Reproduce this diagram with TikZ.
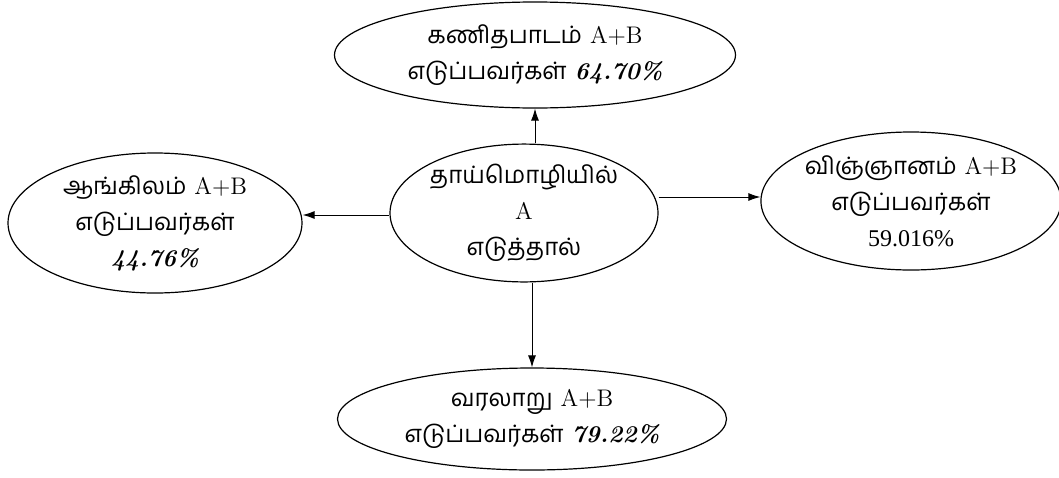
\documentclass[tikz,border=0pt]{standalone}
\usepackage{fontspec}
\usetikzlibrary{shapes.geometric,arrows.meta}
\newfontfamily\tamil[Script=Tamil]{Hind Madurai}
\newfontfamily\timesf{Liberation Serif}
\newfontfamily\lmbi[Numbers=Lining]{Latin Modern Roman}
\newcommand{\pc}[1]{{\lmbi\bfseries\itshape #1}}
\begin{document}
\begin{tikzpicture}[x=0.5pt,y=-0.5pt,
  bub/.style={draw,ellipse,inner sep=0pt,align=center,line width=0.6pt,
    font=\fontsize{12}{18}\selectfont},
  arr/.style={-{Latex[length=6pt,width=4pt]},line width=0.45pt}]
\useasboundingbox (0,0) rectangle (1059,477);
\node[bub,minimum width=134pt,minimum height=67.5pt] (c) at (524,213)
  {{\tamil தாய்மொழியில்}\\A\\{\tamil எடுத்தால்}};
\node[bub,minimum width=200.5pt,minimum height=53pt] (t) at (535,55)
  {{\tamil கணிதபாடம்} A+B\\{\tamil எடுப்பவர்கள்} \pc{64.70\%}};
\node[bub,minimum width=147pt,minimum height=70pt] (l) at (155,223)
  {{\tamil ஆங்கிலம்} A+B\\{\tamil எடுப்பவர்கள்}\\\pc{44.76\%}};
\node[bub,minimum width=142pt,minimum height=69pt] (r) at (911,201)
  {{\tamil விஞ்ஞானம்} A+B\\{\tamil எடுப்பவர்கள்}\\{\timesf 59.016\%}};
\node[bub,minimum width=194.5pt,minimum height=51pt] (b) at (532,419)
  {{\tamil வரலாறு} A+B\\{\tamil எடுப்பவர்கள்} \pc{79.22\%}};
\draw[arr] (t.south |- c.north) -- (t.south);
\draw[arr] (b.north |- c.south) -- (b.north);
\draw[arr] ([yshift=-1pt]c.west) -- ([yshift=-1pt]c.west -| l.east);
\draw[arr] ([yshift=2pt]r.west -| c.east) -- ([yshift=2pt]r.west);
\end{tikzpicture}
\end{document}
